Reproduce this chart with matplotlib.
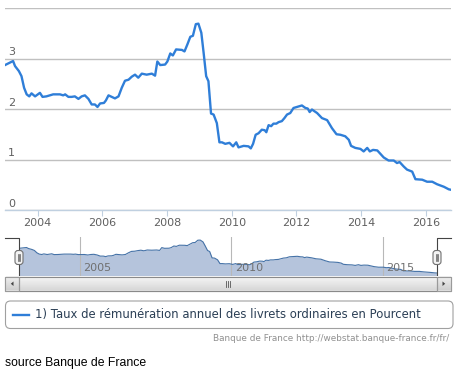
import matplotlib
matplotlib.use("Agg")
import matplotlib.pyplot as plt
from matplotlib.patches import FancyBboxPatch, Rectangle, Polygon
import numpy as np

# ---- data (decimal year, percent) ----
dates = [2002.99, 2003.24, 2003.30, 2003.42, 2003.50, 2003.58, 2003.66, 2003.74, 2003.81,
         2003.92, 2004.07, 2004.15, 2004.27, 2004.48, 2004.69, 2004.79, 2004.85, 2004.95,
         2005.05, 2005.15, 2005.26, 2005.36, 2005.46, 2005.57, 2005.67, 2005.77, 2005.85,
         2005.93, 2006.05, 2006.11, 2006.19, 2006.29, 2006.39, 2006.50, 2006.60, 2006.70,
         2006.81, 2006.91, 2007.01, 2007.11, 2007.22, 2007.37, 2007.53, 2007.63, 2007.70,
         2007.79, 2007.94, 2008.01, 2008.10, 2008.18, 2008.28, 2008.46, 2008.54, 2008.63,
         2008.72, 2008.80, 2008.89, 2008.97, 2009.06, 2009.13, 2009.21, 2009.28, 2009.36,
         2009.44, 2009.54, 2009.62, 2009.70, 2009.80, 2009.93, 2010.04, 2010.14, 2010.21,
         2010.37, 2010.52, 2010.59, 2010.66, 2010.74, 2010.83, 2010.93, 2011.02, 2011.07,
         2011.14, 2011.22, 2011.29, 2011.38, 2011.45, 2011.55, 2011.63, 2011.71, 2011.81,
         2011.91, 2012.07, 2012.17, 2012.28, 2012.35, 2012.41, 2012.48, 2012.64, 2012.79,
         2012.95, 2013.10, 2013.24, 2013.36, 2013.51, 2013.62, 2013.69, 2013.82, 2013.98,
         2014.08, 2014.19, 2014.27, 2014.37, 2014.50, 2014.60, 2014.70, 2014.85, 2015.01,
         2015.11, 2015.19, 2015.32, 2015.42, 2015.58, 2015.68, 2015.89, 2016.04, 2016.20,
         2016.35, 2016.56, 2016.71, 2016.78]
values = [2.87, 2.95, 2.85, 2.75, 2.65, 2.42, 2.29, 2.25, 2.31,
          2.25, 2.32, 2.24, 2.25, 2.29, 2.29, 2.27, 2.29, 2.24,
          2.24, 2.25, 2.20, 2.25, 2.27, 2.20, 2.09, 2.09, 2.04,
          2.11, 2.12, 2.17, 2.27, 2.24, 2.21, 2.25, 2.42, 2.56,
          2.58, 2.64, 2.68, 2.62, 2.70, 2.68, 2.70, 2.66, 2.94,
          2.87, 2.88, 2.94, 3.10, 3.06, 3.18, 3.17, 3.14, 3.28,
          3.43, 3.45, 3.68, 3.69, 3.51, 3.12, 2.65, 2.55, 1.91,
          1.89, 1.72, 1.34, 1.34, 1.31, 1.33, 1.26, 1.34, 1.24,
          1.27, 1.26, 1.22, 1.31, 1.49, 1.52, 1.59, 1.58, 1.54,
          1.68, 1.66, 1.71, 1.71, 1.74, 1.76, 1.82, 1.89, 1.92,
          2.02, 2.05, 2.07, 2.02, 2.01, 1.94, 1.99, 1.92, 1.82,
          1.78, 1.62, 1.50, 1.49, 1.46, 1.39, 1.27, 1.23, 1.21,
          1.16, 1.23, 1.16, 1.19, 1.18, 1.11, 1.04, 0.98, 0.98,
          0.93, 0.95, 0.86, 0.80, 0.76, 0.61, 0.60, 0.56, 0.56,
          0.51, 0.46, 0.41, 0.40]

y_ticks = [0, 1, 2, 3, 4]
y_labels = ["0", "1", "2", "3", ""]
x_ticks = [2004, 2006, 2008, 2010, 2012, 2014, 2016]
x_labels = ["2004", "2006", "2008", "2010", "2012", "2014", "2016"]
nav_ticks = [2005, 2010, 2015]
nav_labels = ["2005", "2010", "2015"]
series_name = "1) Taux de rémunération annuel des livrets ordinaires en Pourcent"
credits = "Banque de France http://webstat.banque-france.fr/fr/"
source = "source Banque de France"

W, H = 461, 374
DPI = 100
fig = plt.figure(figsize=(W / DPI, H / DPI), dpi=DPI)
fig.patch.set_facecolor("white")

def box(x0, y0, x1, y1):
    return [x0 / W, 1 - y1 / H, (x1 - x0) / W, (y1 - y0) / H]

LINE = "#2F7ED8"
GRID = "#C0C0C0"
LAB = "#606060"
FONT = "DejaVu Sans"

# ---- main chart ----
ax = fig.add_axes(box(5, 8, 451, 210))
ax.plot(dates, values, color=LINE, lw=1.7, solid_joinstyle="round", zorder=3)
ax.set_xlim(min(dates), max(dates))
ax.set_ylim(0, 4)
for s in ["top", "left", "right"]:
    ax.spines[s].set_visible(False)
ax.spines["bottom"].set_color("#C0D0E0")
ax.spines["bottom"].set_linewidth(1)
ax.set_yticks(y_ticks)
ax.yaxis.grid(True, color=GRID, lw=1)
ax.tick_params(axis="y", length=0, labelleft=False)
for v, lab in zip(y_ticks, y_labels):
    if lab:
        ax.annotate(lab, xy=(0, v), xycoords=("axes fraction", "data"),
                    xytext=(2.0, 1.0), textcoords="offset points",
                    ha="left", va="bottom", fontsize=8, color=LAB, family=FONT)
ax.set_xticks(x_ticks)
ax.set_xticklabels(x_labels, fontsize=8, color=LAB, family=FONT)
ax.tick_params(axis="x", length=4, color="#C0D0E0", pad=2)
ax.set_axisbelow(True)

# ---- navigator ----
nav = fig.add_axes(box(19, 237, 437, 277))
nav.fill_between(dates, values, 0, color="#B5C4DC", lw=0)
nav.plot(dates, values, color="#4572A7", lw=0.8)
nav.set_xlim(min(dates), max(dates))
nav.set_ylim(0, 4)
for s in nav.spines.values():
    s.set_visible(False)
nav.set_xticks(nav_ticks)
nav.xaxis.grid(True, color="#B8B8B8", lw=0.8)
nav.tick_params(length=0, labelbottom=False, labelleft=False)
nav.set_yticks([])
for t, lab in zip(nav_ticks, nav_labels):
    nav.annotate(lab, xy=(t, 0), xycoords=("data", "axes fraction"),
                 xytext=(2.5, 3), textcoords="offset points",
                 ha="left", va="bottom", fontsize=8, color="#707070", family=FONT)

# ---- decoration overlay in pixel coordinates ----
ov = fig.add_axes([0, 0, 1, 1], zorder=10)
ov.set_xlim(0, W)
ov.set_ylim(H, 0)
ov.axis("off")
ov.patch.set_alpha(0)

# navigator outline
ov.plot([5, 19, 19], [237.5, 237.5, 277], color="#444444", lw=0.8)
ov.plot([451, 437, 437], [237.5, 237.5, 277], color="#444444", lw=0.8)

# scrollbar
sb_y0, sb_y1 = 277, 290.5
ov.add_patch(Rectangle((5, sb_y0), 446, sb_y1 - sb_y0, facecolor="#E4E4E4",
                       edgecolor="#A8A8A8", lw=0.8))
grad = np.linspace(0, 1, 20).reshape(-1, 1)
ov.imshow(grad, extent=(19, 437, sb_y1, sb_y0), cmap=matplotlib.colors.LinearSegmentedColormap.from_list(
    "g", ["#F7F7F7", "#D8D8D8"]), aspect="auto", zorder=2)
ov.add_patch(Rectangle((19, sb_y0), 418, sb_y1 - sb_y0, facecolor="none",
                       edgecolor="#8A8A8A", lw=0.8, zorder=3))
for xx in (226, 228, 230):
    ov.plot([xx, xx], [281, 286.5], color="#555555", lw=0.6, zorder=4)
for bx0 in (5, 437):
    ov.imshow(grad, extent=(bx0 + 0.5, bx0 + 13.5, sb_y1, sb_y0),
              cmap=matplotlib.colors.LinearSegmentedColormap.from_list("b", ["#F0F0F0", "#D0D0D0"]),
              aspect="auto", zorder=2)
    ov.add_patch(Rectangle((bx0, sb_y0), 14, sb_y1 - sb_y0, facecolor="none",
                           edgecolor="#9A9A9A", lw=0.8, zorder=3))
ov.add_patch(Polygon([[13.5, 281.5], [13.5, 286.0], [10.8, 283.75]], closed=True,
                     facecolor="#444444", edgecolor="none", zorder=4))
ov.add_patch(Polygon([[442.5, 281.5], [442.5, 286.0], [445.2, 283.75]], closed=True,
                     facecolor="#444444", edgecolor="none", zorder=4))

# handles
for hx in (19, 437):
    ov.add_patch(FancyBboxPatch((hx - 4, 250.5), 8, 14, boxstyle="round,pad=0,rounding_size=3",
                                facecolor="#F2F2F2", edgecolor="#707070", lw=0.8, zorder=5))
    for dx in (-1.3, 0.0, 1.3):
        ov.plot([hx + dx, hx + dx], [254, 261], color="#555555", lw=0.5, zorder=6)

# legend box
ov.add_patch(FancyBboxPatch((5.5, 301), 447.5, 27.5, boxstyle="round,pad=0,rounding_size=5",
                            facecolor="white", edgecolor="#A0A0A0", lw=0.8, zorder=2))
ov.plot([13, 28.5], [314.5, 314.5], color=LINE, lw=1.7, zorder=3)
ov.text(35, 314.5, series_name, fontsize=8.35, color="#2B3F55", family=FONT,
        ha="left", va="center", zorder=3)

# credits
ov.text(449, 338.5, credits, fontsize=6.4, color="#909090", family=FONT,
        ha="right", va="center")

# source
ov.text(5, 363, source, fontsize=8.8, color="black", family="Liberation Sans",
        ha="left", va="center")

fig.savefig("out.png", dpi=DPI, facecolor="white")
